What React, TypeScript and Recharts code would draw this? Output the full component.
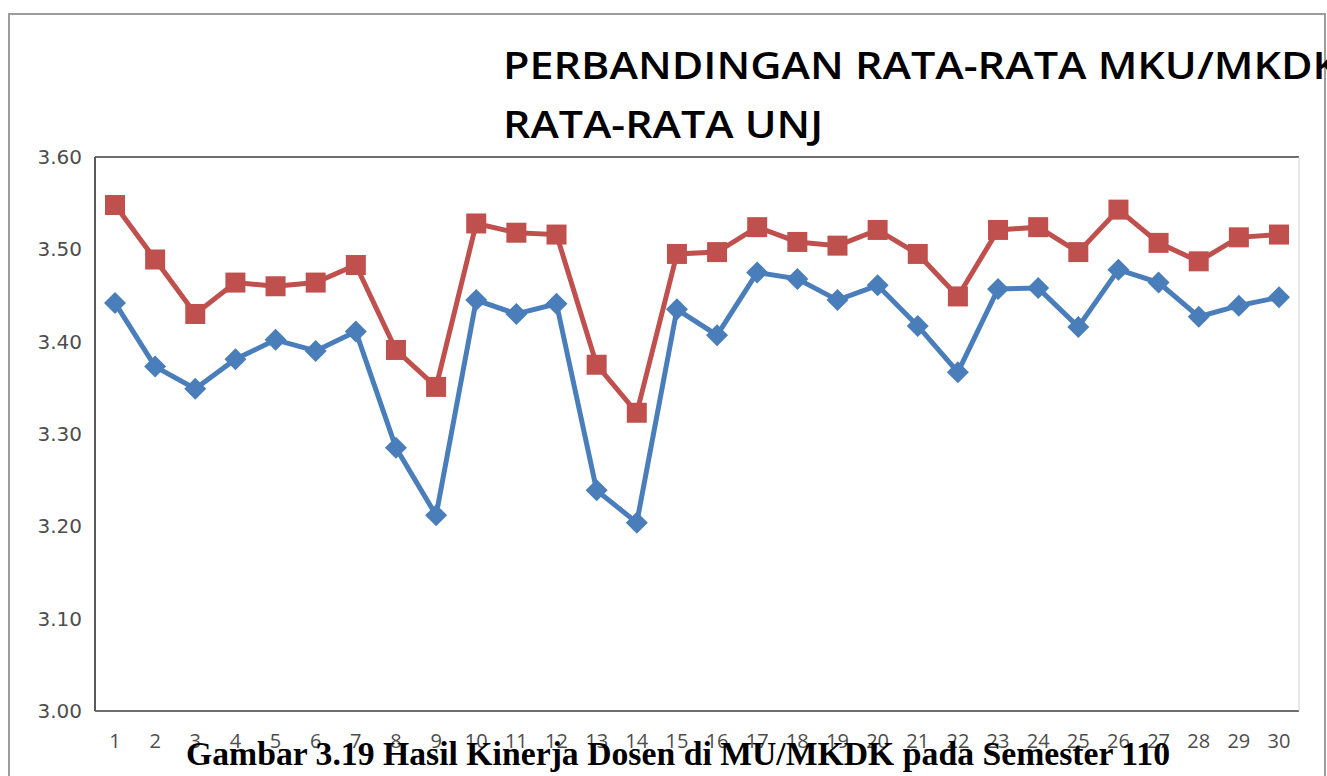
import React from 'react';
import { LineChart, Line, XAxis, YAxis, CartesianGrid } from 'recharts';

const categories = ['1','2','3','4','5','6','7','8','9','10','11','12','13','14','15','16','17','18','19','20','21','22','23','24','25','26','27','28','29','30'];
const rataMku = [3.442,3.373,3.349,3.381,3.402,3.390,3.411,3.285,3.212,3.445,3.430,3.441,3.239,3.204,3.435,3.407,3.475,3.468,3.445,3.461,3.417,3.367,3.457,3.458,3.416,3.478,3.464,3.427,3.439,3.448];
const rataUnj = [3.548,3.489,3.430,3.464,3.460,3.464,3.483,3.391,3.351,3.528,3.518,3.516,3.375,3.323,3.495,3.497,3.524,3.508,3.504,3.521,3.495,3.449,3.521,3.524,3.497,3.543,3.507,3.487,3.513,3.516];
const yTicks = [3.0, 3.1, 3.2, 3.3, 3.4, 3.5, 3.6];
const titleLine1 = 'PERBANDINGAN RATA-RATA MKU/MKDK';
const titleLine2 = 'RATA-RATA UNJ';
const caption = 'Gambar 3.19 Hasil Kinerja Dosen di MU/MKDK pada Semester 110';

const data = categories.map((c, i) => ({ name: c, mku: rataMku[i], unj: rataUnj[i] }));

const BLUE = '#4A7EBB';
const RED = '#C0504D';

const Diamond = (props: any) => {
  const { cx, cy } = props;
  if (cx == null || cy == null) return null;
  const r = 11;
  return <polygon points={`${cx},${cy - r} ${cx + r},${cy} ${cx},${cy + r} ${cx - r},${cy}`} fill={BLUE} />;
};

const Square = (props: any) => {
  const { cx, cy } = props;
  if (cx == null || cy == null) return null;
  const s = 10;
  return <rect x={cx - s} y={cy - s} width={2 * s} height={2 * s} fill={RED} />;
};

export default function App() {
  return (
    <div style={{ position: 'absolute', left: 0, top: 0, width: 1327, height: 776, background: '#fff', overflow: 'hidden' }}>
      <LineChart width={1327} height={776} data={data} margin={{ top: 157, right: 0, bottom: 0, left: 0 }}>
        <CartesianGrid horizontal vertical={false} stroke="#6e6e6e" strokeWidth={2} />
        <XAxis
          dataKey="name"
          height={65}
          padding={{ left: 20, right: 20 }}
          tickSize={0}
          tickMargin={23}
          axisLine={{ stroke: '#6e6e6e', strokeWidth: 2 }}
          tickLine={false}
          interval={0}
          tick={{ fill: '#4d4d4d', fontSize: 20, fontFamily: 'Open Sans' }}
        />
        <YAxis
          yAxisId="left"
          width={95}
          domain={[3.0, 3.6]}
          ticks={yTicks}
          tickFormatter={(v: number) => v.toFixed(2)}
          tickSize={0}
          tickMargin={13}
          axisLine={{ stroke: '#5a5a5a', strokeWidth: 2 }}
          tickLine={false}
          tick={{ fill: '#4d4d4d', fontSize: 20, fontFamily: 'DejaVu Sans' }}
          interval={0}
        />
        <YAxis
          yAxisId="right"
          orientation="right"
          width={28}
          domain={[3.0, 3.6]}
          tick={false}
          tickLine={false}
          axisLine={{ stroke: '#d0d0d0', strokeWidth: 1 }}
        />
        <Line yAxisId="left" type="linear" dataKey="mku" stroke={BLUE} strokeWidth={5} dot={<Diamond />} activeDot={false} isAnimationActive={false} />
        <Line yAxisId="left" type="linear" dataKey="unj" stroke={RED} strokeWidth={5} dot={<Square />} activeDot={false} isAnimationActive={false} />
      </LineChart>
      <svg width={1327} height={776} style={{ position: 'absolute', left: 0, top: 0, pointerEvents: 'none' }}>
        <path d="M9,776 L9,14 L1325,14 L1325,776" fill="none" stroke="#9c9c9c" strokeWidth={2} />
        <text x={503} y={79} fontFamily="Open Sans" fontWeight={600} fontSize={38} fill="#000" textLength={837} lengthAdjust="spacingAndGlyphs">{titleLine1}</text>
        <text x={503} y={138} fontFamily="Open Sans" fontWeight={600} fontSize={38} fill="#000" textLength={320} lengthAdjust="spacingAndGlyphs">{titleLine2}</text>
        <text x={186} y={765} fontFamily="Liberation Serif" fontWeight={700} fontSize={34} fill="#000" textLength={984} lengthAdjust="spacingAndGlyphs">{caption}</text>
      </svg>
    </div>
  );
}
